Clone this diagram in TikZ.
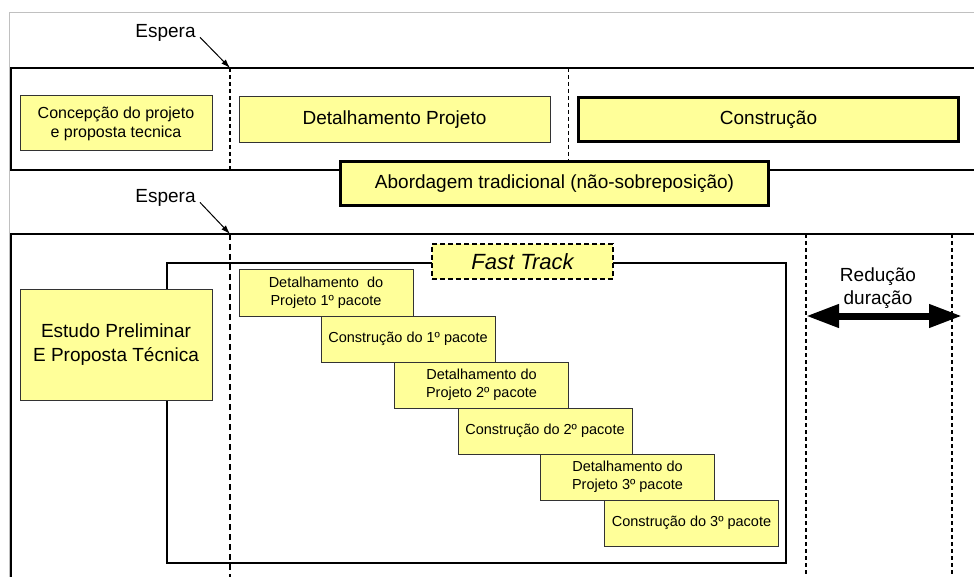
\documentclass[tikz,border=0pt]{standalone}
\usepackage{fontspec}
\setmainfont{Liberation Sans}
\usetikzlibrary{arrows.meta,positioning,calc}
\definecolor{paleyel}{HTML}{FFFF99}
\definecolor{edgegray}{HTML}{333333}
\definecolor{framegray}{HTML}{C0C0C0}
\newcommand{\fbig}{\fontsize{19}{23.5}\selectfont}
\newcommand{\fmid}{\fontsize{16}{19}\selectfont}
\newcommand{\fsmall}{\fontsize{14.5}{17.6}\selectfont}
\tikzset{
  phase/.style={rectangle,draw=edgegray,fill=paleyel,line width=1pt,inner sep=0pt,
    align=center,text=black,font=#1},
  phase/.default={\fmid},
  keyphase/.style={phase=\fbig,draw=black,line width=3pt},
  stair/.style={phase=\fsmall,minimum width=174pt,minimum height=46pt},
  tag/.style={inner sep=0pt,font=\fbig,text=black,align=center},
  band/.style={draw=black,line width=2pt},
  outline/.style={draw=framegray,line width=1pt},
  waitline/.style={draw=black,dashed,dash pattern=on 4pt off 3pt,line width=#1},
  waitline/.default={1.2pt},
  arr/.style={-{Latex[length=9pt,width=6pt]},line width=1pt,shorten <=6pt},
  gainarr/.style={{Triangle[length=33pt,width=22pt]}-{Triangle[length=33pt,width=22pt]},
    line width=7pt},
}

\begin{document}
\begin{tikzpicture}[x=1pt,y=-1pt]
  \useasboundingbox (0,0) rectangle (974,577);
  \draw[outline] (9,577) -- (9,13) -- (974,13);
  % abordagem tradicional
  \draw[band] (974,68) -| (11,170) -- (974,170);
  \coordinate (waitA) at (230,68);
  \coordinate (waitAend) at (230,170);
  \coordinate (cutA) at (568,68);
  \coordinate (cutAend) at (568,170);
  \draw[waitline] (waitA) -- (waitAend);
  \draw[waitline=1pt] (cutA) -- (cutAend);
  \node[tag] (espA) at (165.5,33) {Espera};
  \draw[arr] (espA.east) -- (waitA);
  \node[phase,minimum width=192pt,minimum height=55pt] (concept) at (116,123.5)
    {Concepção do projeto\\e proposta tecnica};
  \node[phase=\fbig,minimum width=311pt,minimum height=46.5pt] (detail) at (394.5,119.3)
    {Detalhamento Projeto};
  \node[keyphase,minimum width=380pt,minimum height=44pt] (build) at (768.5,119.5)
    {Construção};
  \node[keyphase,minimum width=428pt,minimum height=44pt] (trad) at (554.5,183.5)
    {Abordagem tradicional (não-sobreposição)};
  % fast track
  \draw[band] (974,234) -| (11,577);
  \coordinate (waitB) at (230,234);
  \coordinate (waitBend) at (230,577);
  \coordinate (endFT) at (806,234);
  \coordinate (endFTbot) at (806,577);
  \coordinate (endTrad) at (952,234);
  \coordinate (endTradbot) at (952,577);
  \draw[waitline=1.6pt,dash pattern=on 6pt off 4pt] (waitB) -- (waitBend);
  \draw[waitline] (endFT) -- (endFTbot);
  \draw[waitline] (endTrad) -- (endTradbot);
  \node[tag] (espB) at (165.5,198) {Espera};
  \draw[arr] (espB.east) -- (waitB);
  \node[draw=black,line width=2pt,minimum width=619pt,minimum height=300pt] (ftbox)
    at (476.5,413) {};
  \node[phase={\fontsize{22}{26}\selectfont\itshape},draw=black,line width=1.5pt,
    dashed,dash pattern=on 5pt off 3pt,minimum width=181pt,minimum height=35pt]
    (fttag) at (522.5,261.5) {Fast Track};
  \node[phase=\fbig,minimum width=192pt,minimum height=111pt] (study) at (116,344.5)
    {Estudo Preliminar\\E Proposta Técnica};
  \node[stair] (det1) at (326,293) {Detalhamento\ \ do\\Projeto 1º pacote};
  \node[stair] (con1) at (408,339) {Construção do 1º pacote};
  \node[stair] (det2) at (481.5,385) {Detalhamento do\\Projeto 2º pacote};
  \node[stair] (con2) at (545,431) {Construção do 2º pacote};
  \node[stair] (det3) at (627.5,477) {Detalhamento do\\Projeto 3º pacote};
  \node[stair] (con3) at (691.5,523) {Construção do 3º pacote};
  \node[tag,text width=140pt,font=\fontsize{19}{23}\selectfont] (gain) at (878,288.5)
    {Redução\\duração};
  \coordinate (gainL) at (806,316);
  \coordinate (gainR) at (962,316);
  \draw[gainarr] (gainL) -- (gainR);
\end{tikzpicture}
\end{document}
